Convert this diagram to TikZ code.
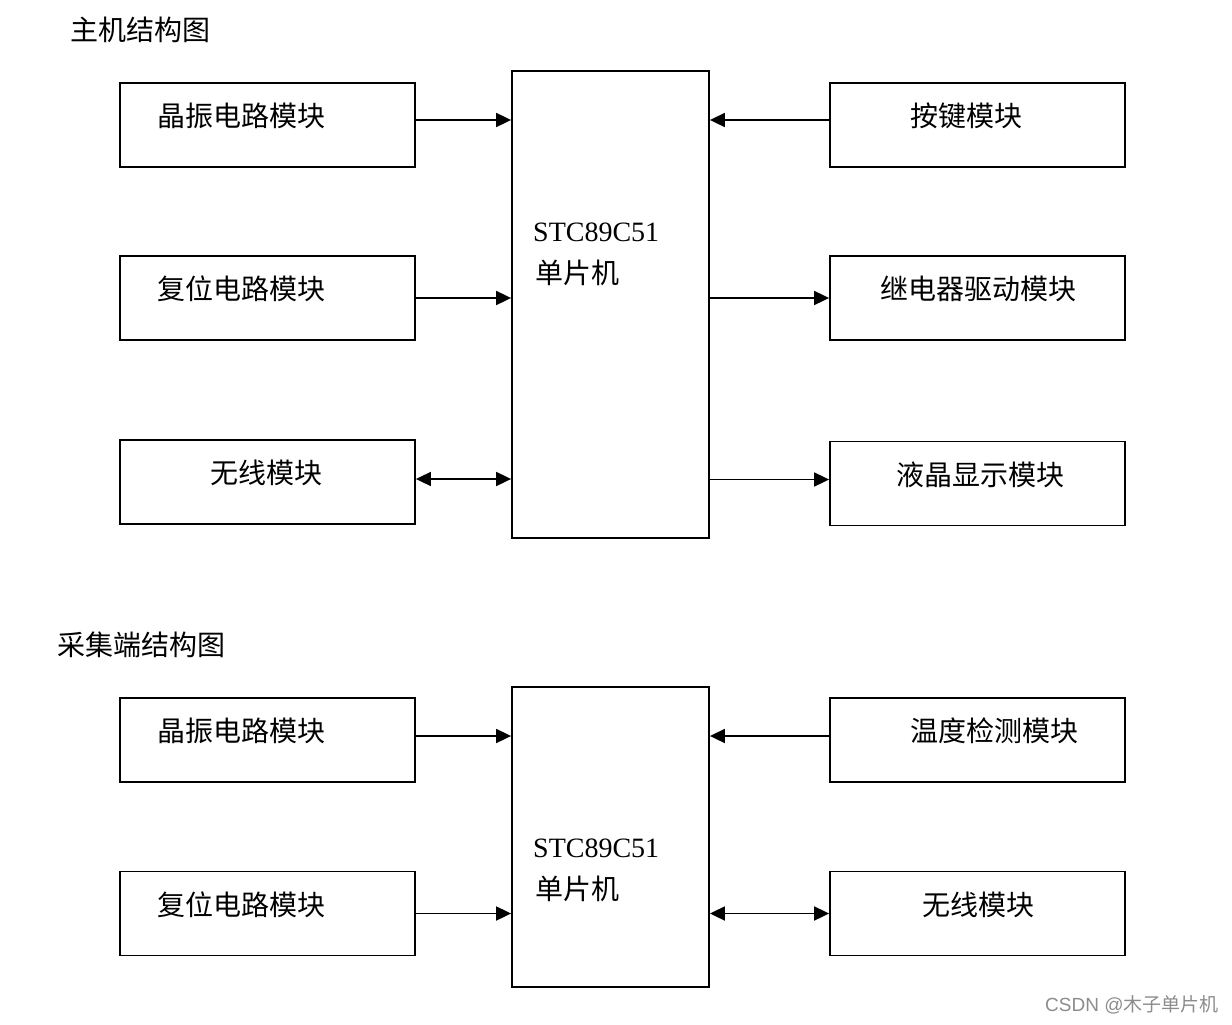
\documentclass[tikz,border=0pt]{standalone}
\usepackage{fontspec}
\setmainfont{Liberation Serif}
\newfontfamily\cjk{Noto Sans CJK SC}
\newfontfamily\latinsans{Liberation Sans}
\usetikzlibrary{arrows.meta}
\begin{document}
\begin{tikzpicture}[x=1pt,y=-1pt,
  box/.style={draw,line width=1.8pt,minimum width=295pt,minimum height=84pt,inner sep=0pt},
  mcu/.style={draw,line width=1.8pt,minimum width=197pt,inner sep=0pt},
  lbl/.style={anchor=west,inner sep=0pt,font=\fontsize{28}{30}\selectfont\cjk},
  num/.style={anchor=west,inner sep=0pt,font=\fontsize{28}{30}\selectfont},
  conn/.style={line width=1.8pt,-{Triangle[length=15pt,width=14pt]}},
  conn2/.style={line width=1.8pt,{Triangle[length=15pt,width=14pt]}-{Triangle[length=15pt,width=14pt]}}]
\useasboundingbox (0,0) rectangle (1232,1025);
% ---------- section 1 ----------
\node[lbl] (t1) at (70,30) {主机结构图};
\node[box] (b1) at (267.5,125) {};
\node[box] (b2) at (267.5,298) {};
\node[box] (b3) at (267.5,482) {};
\node[mcu,minimum height=467pt] (c1) at (610.5,304.5) {};
\node[box] (r1) at (977.5,125) {};
\node[box] (r2) at (977.5,298) {};
\node[box] (r3) at (977.5,483.5) {};
\node[lbl] (b1t) at (157,116) {晶振电路模块};
\node[lbl] (b2t) at (157,289) {复位电路模块};
\node[lbl] (b3t) at (210,473) {无线模块};
\node[lbl] (r1t) at (910,116) {按键模块};
\node[lbl] (r2t) at (880,289) {继电器驱动模块};
\node[lbl] (r3t) at (896,475) {液晶显示模块};
\node[num] (c1a) at (533,232) {STC89C51};
\node[lbl] (c1b) at (535,273) {单片机};
\draw[conn] ([yshift=5pt]b1.east) -- ([yshift=5pt]b1.east -| c1.west);
\draw[conn] (b2.east) -- (b2.east -| c1.west);
\draw[conn2] ([yshift=3pt]b3.east) -- ([yshift=3pt]b3.east -| c1.west);
\draw[conn] ([yshift=5pt]r1.west) -- ([yshift=5pt]r1.west -| c1.east);
\draw[conn] (r2.west -| c1.east) -- (r2.west);
\draw[conn] ([yshift=4pt]r3.west -| c1.east) -- ([yshift=4pt]r3.west);
% ---------- section 2 ----------
\node[lbl] (t2) at (57,645) {采集端结构图};
\node[box] (l1) at (267.5,740) {};
\node[box] (l2) at (267.5,913.5) {};
\node[mcu,minimum height=300pt] (c2) at (610.5,837) {};
\node[box] (s1) at (977.5,740) {};
\node[box] (s2) at (977.5,913.5) {};
\node[lbl] (l1t) at (157,731) {晶振电路模块};
\node[lbl] (l2t) at (157,905) {复位电路模块};
\node[lbl] (s1t) at (910,731) {温度检测模块};
\node[lbl] (s2t) at (922,905) {无线模块};
\node[num] (c2a) at (533,848) {STC89C51};
\node[lbl] (c2b) at (535,889) {单片机};
\draw[conn] ([yshift=4pt]l1.east) -- ([yshift=4pt]l1.east -| c2.west);
\draw[conn] (l2.east) -- (l2.east -| c2.west);
\draw[conn] ([yshift=4pt]s1.west) -- ([yshift=4pt]s1.west -| c2.east);
\draw[conn2] (s2.west -| c2.east) -- (s2.west);
% ---------- credit ----------
\node[anchor=west,inner sep=0pt,text=black!45,font=\fontsize{19}{21}\selectfont] (cr) at (1045,1005) {{\latinsans CSDN @}{\cjk 木子单片机}};
\end{tikzpicture}
\end{document}
